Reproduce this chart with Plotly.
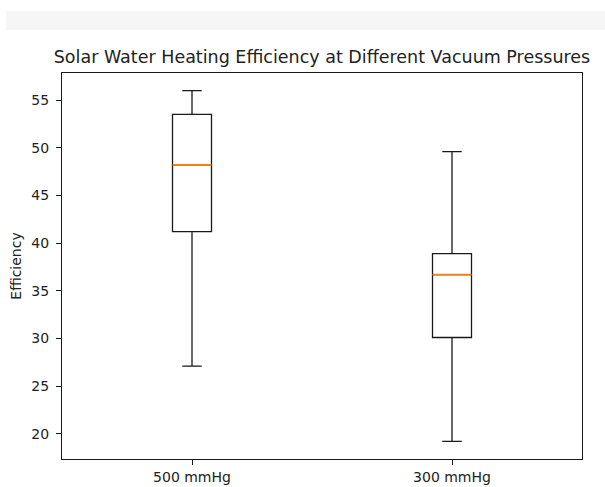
import plotly.graph_objects as go

# Efficiency summary statistics per vacuum pressure
categories = ["500 mmHg", "300 mmHg"]
positions = [1, 2]
whisker_low = [27.1, 19.2]
q1_values = [41.2, 30.1]
medians = [48.2, 36.7]
q3_values = [53.5, 38.9]
whisker_high = [56.0, 49.6]

box_width = 0.15
text_color = "#222222"
font_family = "DejaVu Sans"

fig = go.Figure()

for pos, lo, q1, med, q3, hi in zip(positions, whisker_low, q1_values, medians, q3_values, whisker_high):
    fig.add_trace(go.Box(
        x=[pos], q1=[q1], median=[med], q3=[q3],
        lowerfence=[lo], upperfence=[hi],
        width=box_width, whiskerwidth=0.5,
        fillcolor="rgba(255,255,255,0)",
        line=dict(color="#1a1a1a", width=1.3),
        boxpoints=False, showlegend=False, hoverinfo="skip",
    ))
    # orange median line drawn over the box
    fig.add_trace(go.Scatter(
        x=[pos - box_width / 2, pos + box_width / 2], y=[med, med],
        mode="lines", line=dict(color="#ff7f0e", width=1.9),
        showlegend=False, hoverinfo="skip",
    ))

# autoscale the value axis with a 5% margin on each side
data_min = min(whisker_low)
data_max = max(whisker_high)
pad = 0.05 * (data_max - data_min)
y_range = [data_min - pad, data_max + pad]

W, H = 605, 487
left, right, top, bottom = 62, 582, 73, 459

fig.update_layout(
    width=W, height=H,
    margin=dict(l=left, r=W - right, t=top, b=H - bottom, pad=0),
    paper_bgcolor="white", plot_bgcolor="white",
    font=dict(family=font_family, size=14, color=text_color),
    title=dict(
        text="Solar Water Heating Efficiency at Different Vacuum Pressures",
        font=dict(family=font_family, size=17.5, color=text_color),
        x=0.5, xref="paper", xanchor="center",
        y=1 - 57 / H, yref="container", yanchor="middle",
    ),
    xaxis=dict(
        range=[0.5, 2.5], tickmode="array", tickvals=positions, ticktext=categories,
        showgrid=False, zeroline=False, automargin=False,
        showline=True, mirror=True, linecolor="#1a1a1a", linewidth=1,
        ticks="outside", ticklen=5, tickwidth=1, tickcolor="#1a1a1a",
        ticklabelstandoff=0,
    ),
    yaxis=dict(
        range=y_range, tickmode="array", tickvals=[20, 25, 30, 35, 40, 45, 50, 55],
        showgrid=False, zeroline=False, automargin=False,
        showline=True, mirror=True, linecolor="#1a1a1a", linewidth=1,
        ticks="outside", ticklen=5, tickwidth=1, tickcolor="#1a1a1a",
        ticklabelstandoff=4,
        title=dict(text="Efficiency", font=dict(family=font_family, size=14, color=text_color), standoff=6),
    ),
    shapes=[dict(
        type="rect", xref="paper", yref="paper", layer="below",
        x0=(6 - left) / (right - left), x1=(W - left) / (right - left),
        y0=(bottom - 30) / (bottom - top), y1=(bottom - 11) / (bottom - top),
        fillcolor="#f6f6f6", line=dict(width=0),
    )],
)

fig.write_html("out.html")
